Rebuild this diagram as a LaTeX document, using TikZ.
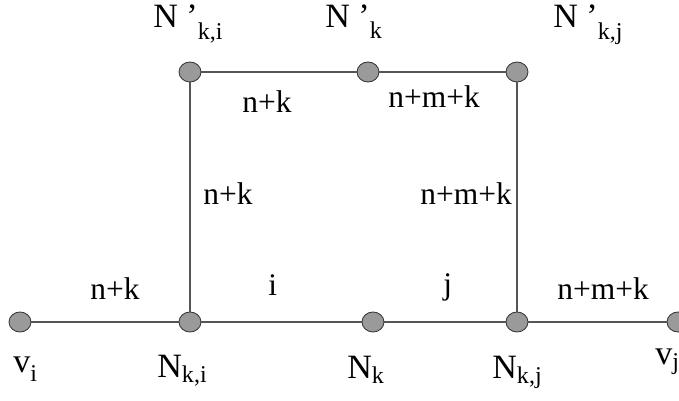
\documentclass[tikz,border=0pt]{standalone}
\usepackage{fontspec}
\setmainfont{Liberation Serif}
\usepackage{xcolor}
\usetikzlibrary{shapes,positioning}

\definecolor{edgegray}{HTML}{555555}
\definecolor{dotfill}{HTML}{9A9A9A}
\definecolor{dotline}{HTML}{3A3A3A}

% subscripts (lowered, smaller)
\newcommand{\lsub}[2]{\raisebox{-#1}{\fontsize{13.7}{14}\selectfont #2}}

\begin{document}
\begin{tikzpicture}[x=0.02cm, y=-0.02cm,
    vertex/.style={draw=dotline, fill=dotfill, ellipse, inner sep=0pt, minimum width=0.44cm, minimum height=0.40cm, line width=0.5pt},
    edge/.style={draw=edgegray, line width=0.7pt},
    nlab/.style={anchor=base west, inner sep=0pt, font=\fontsize{19.4}{20}\selectfont},
    elab/.style={anchor=base west, inner sep=0pt, font=\fontsize{17.9}{19}\selectfont}
]
\useasboundingbox (0,0) rectangle (679,401);

% bottom row
\node[vertex] (vi)  at (20,322) {};
\node[vertex] (nki) at (190,322) {};
\node[vertex] (nk)  at (373,322) {};
\node[vertex] (nkj) at (517,322) {};
\node[vertex] (vj)  at (678,322) {};

% top row
\node[vertex] (pki) at (190,72) {};
\node[vertex] (pk)  at (368,72) {};
\node[vertex] (pkj) at (517,72) {};

\draw[edge] (vi) -- (nki);
\draw[edge] (nki) -- (nk);
\draw[edge] (nk) -- (nkj);
\draw[edge] (nkj) -- (vj);
\draw[edge] (nki) -- (pki);
\draw[edge] (nkj) -- (pkj);
\draw[edge] (pki) -- (pk);
\draw[edge] (pk) -- (pkj);

% vertex labels
\node[nlab] (lvi)  at (13,373)  {v\lsub{0.18cm}{i}};
\node[nlab] (lnki) at (157,378) {N\lsub{0.1cm}{k,i}};
\node[nlab] (lnk)  at (347,379) {N\lsub{0.1cm}{k}};
\node[nlab] (lnkj) at (492,379) {N\lsub{0.1cm}{k,j}};
\node[nlab] (lvj)  at (655,365) {v\lsub{0.1cm}{j}};
\node[nlab] (lpki) at (153,28)  {N ’\lsub{0.24cm}{k,i}};
\node[nlab] (lpk)  at (325,28)  {N ’\lsub{0.22cm}{k}};
\node[nlab] (lpkj) at (553,28)  {N ’\lsub{0.24cm}{k,j}};

% edge labels
\node[elab] (e1) at (90,300)  {n+k};
\node[elab] (e2) at (268,296) {i};
\node[elab] (e3) at (443,295) {j};
\node[elab] (e4) at (557,300) {n+m+k};
\node[elab] (e5) at (242,113) {n+k};
\node[elab] (e6) at (388,108) {n+m+k};
\node[elab] (e7) at (203,205) {n+k};
\node[elab] (e8) at (420,205) {n+m+k};
\end{tikzpicture}
\end{document}
